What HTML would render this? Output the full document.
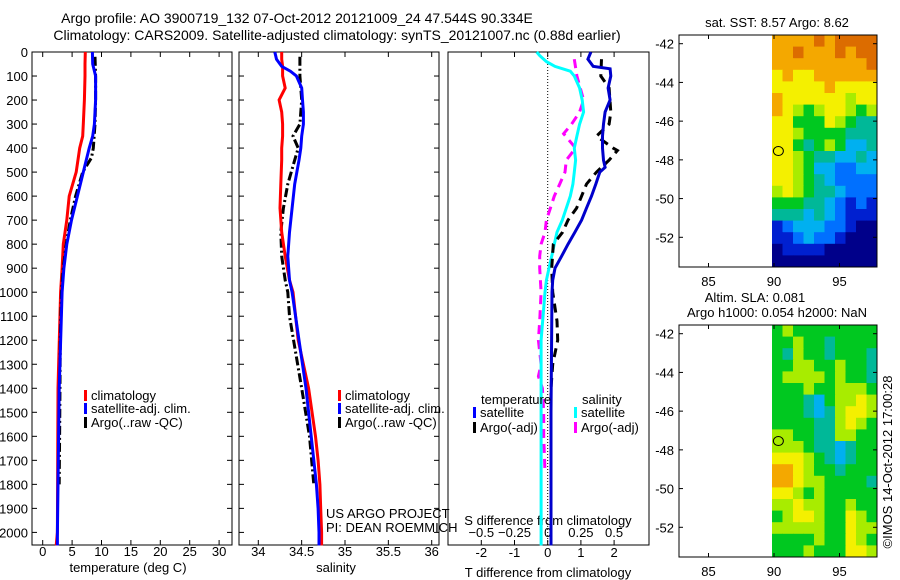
<!DOCTYPE html>
<html><head><meta charset="utf-8"><style>
html,body{margin:0;padding:0;background:#fff;}
svg{display:block;font-family:"Liberation Sans",sans-serif;}
</style></head><body>
<svg id="fig" width="900" height="580" viewBox="0 0 900 580" xmlns="http://www.w3.org/2000/svg">
<text x="297" y="23" font-size="14" text-anchor="middle">Argo profile: AO 3900719_132 07-Oct-2012 20121009_24 47.544S 90.334E</text>
<text x="337" y="40" font-size="14" text-anchor="middle">Climatology: CARS2009. Satellite-adjusted climatology: synTS_20121007.nc (0.88d earlier)</text>
<g id="g"></g>
</svg>
<script>
// ---- data ----
const tDepth = [0,50,100,200,300,350,400,500,600,700,800,900,1000,1400,2000,2054];
const tClim  = [7.25,7.2,7.2,7.1,6.9,6.8,6.3,5.7,4.5,4.1,3.5,3.3,3.05,2.6,2.5,2.3];
const tSat   = [8.45,8.5,9.0,9.0,8.8,8.5,7.9,6.9,5.9,4.9,4.1,3.6,3.3,2.8,2.5,2.5];
const aDepth = [20,100,200,300,400,440,500,600,700,800,900,1000,1200,1500,1800];
const tArgo  = [8.9,9.0,9.0,8.9,8.6,8.3,6.8,5.6,4.7,4.0,3.5,3.2,3.0,2.9,2.8];
const sDepth = [0,30,60,80,100,150,200,250,300,350,400,450,550,650,750,850,950,1000,1200,1400,1600,1700,1800,1900,2000,2054];
const sClim  = [34.27,34.27,34.28,34.28,34.28,34.31,34.24,34.27,34.28,34.28,34.27,34.27,34.26,34.25,34.27,34.31,34.36,34.40,34.46,34.58,34.66,34.69,34.71,34.72,34.73,34.73];
const sSat   = [34.19,34.21,34.27,34.37,34.44,34.50,34.51,34.52,34.52,34.50,34.49,34.47,34.42,34.39,34.36,34.34,34.36,34.39,34.47,34.55,34.61,34.64,34.67,34.69,34.70,34.70];
const sArgoDepth = [20,100,200,300,350,400,450,550,650,750,850,950,1000,1100,1400,1600,1800];
const sArgo  = [34.48,34.48,34.50,34.48,34.40,34.46,34.42,34.34,34.29,34.26,34.27,34.31,34.34,34.36,34.50,34.59,34.64];
const dDepth = [0,30,60,70,100,150,200,250,300,350,400,450,480,500,550,600,650,700,750,800,850,900,950,1000,1500,2054];
const dTsat  = [1.3,1.21,1.37,1.88,1.9,1.82,1.88,1.73,1.68,1.65,1.65,1.68,1.73,1.57,1.45,1.32,1.17,1.02,0.82,0.61,0.42,0.22,0.15,0.13,0.1,0.1];
const dTargoDepth = [30,100,150,250,300,350,400,410,450,500,550,600,650,700,750,800,900,1000,1120,1200,1300,1400,1800];
const dTargo = [1.62,1.6,1.85,1.9,1.85,1.47,1.97,2.1,1.85,1.47,1.17,1.02,0.87,0.61,0.45,0.17,0.12,0.15,0.28,0.3,0.15,0.1,0.1];
const dSsatDepth = [0,15,40,60,80,100,150,200,250,300,350,400,450,500,550,600,650,700,750,800,850,900,950,1000,1200,2054];
const dSsat  = [-0.083,-0.06,-0.01,0.055,0.17,0.2,0.24,0.26,0.27,0.24,0.22,0.2,0.21,0.2,0.19,0.17,0.14,0.11,0.07,0.05,0.03,0.01,-0.01,-0.02,-0.05,-0.05];
const dSargoDepth = [30,100,200,250,300,340,400,450,500,550,600,650,700,750,800,850,900,1000,1120,1200,1300,1350,1400,1500,1600,1750];
const dSargo = [0.2,0.22,0.27,0.24,0.18,0.12,0.21,0.14,0.13,0.09,0.05,0.02,-0.01,-0.02,-0.05,-0.06,-0.06,-0.05,-0.06,-0.07,-0.05,-0.07,-0.04,-0.03,-0.03,-0.02];
const depthTicks = [0,100,200,300,400,500,600,700,800,900,1000,1100,1200,1300,1400,1500,1600,1700,1800,1900,2000];
const tTicks = [0,5,10,15,20,25,30];
const sTicks = [34,34.5,35,35.5,36];
const dtTicks = [-2,-1,0,1,2];
const dsTicks = [-0.5,-0.25,0,0.25,0.5];
const lonTicks = [85,90,95];
const latTicks = [-42,-44,-46,-48,-50,-52];
const palette = ['#00008a','#0020d0','#0070ff','#00b0f0','#00b898','#00c820','#a8ec00','#f4f000','#f4a800','#dc6c00'];
const sstGrid = ["8888989999","8898889899","8888888889","7877888888","7777787777","8777777677","8765677656","7755576544","7765555444","7754565334","7765443343","7765332233","7765432222","6765443222","5554432121","4443432111","1233322100","1123221000","0111100000","0000000000"];
const slaGrid = ["5655555555","5565545555","5465545554","5566556554","5666656554","5556556665","5554356676","5554346776","5555446765","6655446655","6665443455","7776543455","8876554555","8876655554","7765655555","6676655655","5677655765","6666655766","5555655765","5556555776"];
const argoLon = 90.334, argoLat = -47.544;

// ---- helpers ----
const NS='http://www.w3.org/2000/svg';
const G=document.getElementById('g');
function mk(tag,attrs,parent){const e=document.createElementNS(NS,tag);for(const k in attrs)e.setAttribute(k,attrs[k]);(parent||G).appendChild(e);return e;}
function txt(s,x,y,anchor,size,parent){const e=mk('text',{x:x,y:y,'font-size':size||13,'text-anchor':anchor||'start'},parent);e.textContent=s;return e;}
const yD = d => 52 + d*0.2402;
const xT = t => 42.7 + t*5.88;
const xS = s => 258.3 + (s-34)*86.7;
const xDT = v => 547.7 + v*33.2;
const xDS = v => 547.7 + v*132.8;
function line(xs,ds,fx,color,dash,w,name){
  const pts=xs.map((v,i)=>fx(v).toFixed(1)+','+yD(ds[i]).toFixed(1)).join(' ');
  const p=mk('polyline',{points:pts,fill:'none',stroke:color,'stroke-width':w||3,'stroke-dasharray':dash||'none'});
  
  
  return p;
}
function panel(x0,x1,name,leftLabels){
  const r=mk('rect',{x:x0,y:52,width:x1-x0,height:493,fill:'none',stroke:'#000','stroke-width':1});
  
  
  depthTicks.forEach(d=>{
    mk('line',{x1:x0,x2:x0+5,y1:yD(d),y2:yD(d),stroke:'#000'});
    mk('line',{x1:x1-5,x2:x1,y1:yD(d),y2:yD(d),stroke:'#000'});
    if(leftLabels){const t=txt(String(d),28,yD(d)+5,'end',13);
      
      }
  });
}
function xticks(ticks,fx,labY){
  ticks.forEach(v=>{const x=fx(v);
    mk('line',{x1:x,x2:x,y1:52,y2:57,stroke:'#000'});
    mk('line',{x1:x,x2:x,y1:540,y2:545,stroke:'#000'});
    if(labY){const t=txt(String(v),x,labY,'middle',13);
      
      }
  });
}
function legendEntry(x,y,color,label,name){
  mk('rect',{x:x,y:y-10,width:3,height:11,fill:color});
  const t=txt(label,x+7,y,'start',13);
  
  
}

// ---- panel 1 temperature ----
panel(32,232,'temperature-axes',true);
xticks(tTicks,xT,556);
const l1=txt('temperature (deg C)',128,572,'middle',13);


line(tClim,tDepth,xT,'#ff0000',null,3,'temperature-climatology-line');
line(tArgo,aDepth,xT,'#000','9,3,2,3',3,'temperature-argo-line');
line(tSat,tDepth,xT,'#0000ff',null,3,'temperature-satellite-line');
legendEntry(84,400,'#ff0000','climatology','legend-climatology');
legendEntry(84,413,'#0000ff','satellite-adj. clim.','legend-satellite');
legendEntry(84,427,'#000','Argo(..raw -QC)','legend-argo');

// ---- panel 2 salinity ----
panel(239,439,'salinity-axes',false);
xticks(sTicks,xS,556);
const l2=txt('salinity',336,572,'middle',13);


line(sArgo,sArgoDepth,xS,'#000','9,3,2,3',3,'salinity-argo-line');
line(sClim,sDepth,xS,'#ff0000',null,3,'salinity-climatology-line');
line(sSat,sDepth,xS,'#0000ff',null,3,'salinity-satellite-line');
legendEntry(338,400,'#ff0000','climatology','legend-climatology-s');
legendEntry(338,413,'#0000ff','satellite-adj. clim.','legend-satellite-s');
legendEntry(338,427,'#000','Argo(..raw -QC)','legend-argo-s');
const u1=txt('US ARGO PROJECT',326,518,'start',13);


const u2=txt('PI: DEAN ROEMMICH',326,532,'start',13);



// ---- panel 3 differences ----
const r3=mk('rect',{x:448,y:52,width:201,height:493,fill:'none',stroke:'#000'});


dtTicks.forEach(v=>{const x=xDT(v);mk('line',{x1:x,x2:x,y1:52,y2:57,stroke:'#000'});mk('line',{x1:x,x2:x,y1:540,y2:545,stroke:'#000'});
  const t=txt(String(v),x,557,'middle',13);});
dsTicks.forEach(v=>{const t=txt(String(v).replace('-','−'),xDS(v),537,'middle',13);});
const sl=txt('S difference from climatology',548,525,'middle',13);


const tl=txt('T difference from climatology',548,577,'middle',13);


mk('line',{x1:xDT(0),x2:xDT(0),y1:52,y2:545,stroke:'#000','stroke-dasharray':'1,2'});
line(dSargo,dSargoDepth,xDS,'#ff00ff','9,6',3,'salinity-argo-diff-line');
line(dSsat,dSsatDepth,xDS,'#00ffff',null,3,'salinity-satellite-diff-line');
line(dTargo,dTargoDepth,xDT,'#000','9,6',3,'temperature-argo-diff-line');
line(dTsat,dDepth,xDT,'#0000cc',null,3,'temperature-satellite-diff-line');
const lt=txt('temperature',481,404,'start',13);
const ls=txt('salinity',582,404,'start',13);
legendEntry(473,417,'#0000ff','satellite','legend-t-satellite');
legendEntry(473,432,'#000','Argo(-adj)','legend-t-argo');
legendEntry(574,417,'#00ffff','satellite','legend-s-satellite');
legendEntry(574,432,'#ff00ff','Argo(-adj)','legend-s-argo');

// ---- maps ----
function map(top,grid,name,lat42){
  const xL=d=>774+(d-90)*13.1;
  const yL=la=>lat42+(-42-la)*19.36;
  const H=232;
  const cols=grid[0].length, rows=grid.length;
  const x0=772,x1=877,y0=top,y1=top+H;
  const cw=(x1-x0)/cols, ch=(y1-y0)/rows;
  grid.forEach((row,r)=>{for(let c=0;c<cols;c++){
    const cell=mk('rect',{x:(x0+c*cw).toFixed(2),y:(y0+r*ch).toFixed(2),width:(cw+0.5).toFixed(2),height:(ch+0.5).toFixed(2),fill:palette[+row[c]]});
    
    
  }});
  const b=mk('rect',{x:679,y:top,width:198,height:H,fill:'none',stroke:'#000'});
  
  
  lonTicks.forEach(v=>{const x=xL(v);mk('line',{x1:x,x2:x,y1:top,y2:top+4,stroke:'#000'});mk('line',{x1:x,x2:x,y1:top+H-4,y2:top+H,stroke:'#000'});
    const t=txt(String(v),x,top+H+19,'middle',13);});
  latTicks.forEach(v=>{const y=yL(v);mk('line',{x1:679,x2:683,y1:y,y2:y,stroke:'#000'});mk('line',{x1:873,x2:877,y1:y,y2:y,stroke:'#000'});
    const t=txt(String(v),674,y+5,'end',13);});
  const m=mk('ellipse',{cx:xL(argoLon),cy:yL(argoLat),rx:5,ry:4.5,fill:'none',stroke:'#000','stroke-width':1});
  
  
}
map(35,sstGrid,'sst-map',43.7);
map(325,slaGrid,'sla-map',333.7);
const mt1=txt('sat. SST: 8.57 Argo: 8.62',777,27,'middle',13);
const mt2=txt('Altim. SLA: 0.081',755,302,'middle',13);
const mt3=txt('Argo h1000: 0.054 h2000: NaN',777,317,'middle',13);
const im=txt('©IMOS 14-Oct-2012 17:00:28',0,0,'middle',13);
im.setAttribute('transform','translate(892,462) rotate(-90)');


</script>
</body></html>
